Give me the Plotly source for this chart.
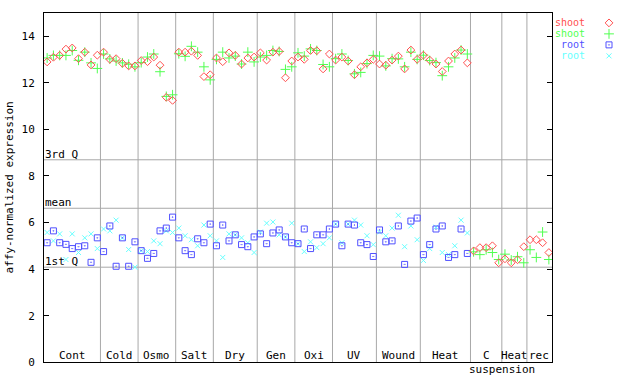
import plotly.graph_objects as go

# ---------------- data ----------------
groups = ["Cont", "Cold", "Osmo", "Salt", "Dry", "Gen", "Oxi", "UV", "Wound", "Heat", "C", "Heat", "rec"]
group_sizes = [9, 6, 6, 6, 7, 6, 6, 7, 7, 8, 5, 4, 4]

shoot_red = [12.89, 13.09, 13.17, 13.44, 13.49, 13.03, 13.31, 12.76, 13.18,
             13.31, 13.00, 13.03, 12.83, 12.72, 12.72,
             12.95, 12.90, 13.10, 12.75, 11.37, 11.24,
             13.31, 13.31, 13.35, 13.17, 12.26, 12.34,
             13.06, 12.90, 13.28, 13.17, 12.80, 13.06, 13.10,
             13.28, 12.97, 13.31, 13.34, 12.21, 12.93,
             13.10, 13.00, 13.38, 13.37, 12.59, 13.23,
             12.97, 13.10, 12.93, 12.34, 12.68, 12.85, 13.00,
             12.80, 12.75, 12.97, 13.14, 12.59, 13.40, 13.00,
             13.18, 12.97, 12.80, 12.48, 12.93, 13.23, 13.40, 12.85,
             4.78, 4.92, 4.92, 5.00, 4.27,
             4.44, 4.27, 4.40, 4.96,
             5.26, 5.26, 5.13, 4.71]
shoot_green = [13.06, 13.17, 13.17, 13.17, 13.38, 12.96, 13.31, 12.85, 12.61,
               13.23, 13.02, 12.93, 12.85, 12.79, 12.68,
               12.86, 13.10, 13.23, 12.47, 11.41, 11.48,
               13.24, 13.13, 13.56, 13.31, 12.68, 12.12,
               13.00, 13.31, 13.06, 13.14, 12.80, 13.31, 12.89,
               13.10, 13.17, 13.38, 13.34, 12.57, 12.68,
               13.28, 13.14, 13.45, 13.38, 12.78, 12.68,
               13.03, 13.23, 12.95, 12.38, 12.44, 12.82, 13.17,
               13.14, 12.72, 13.03, 13.02, 12.68, 13.31, 13.00,
               13.18, 12.95, 12.86, 12.30, 12.68, 13.06, 13.40, 13.23,
               4.74, 4.62, 4.83, 4.71, 4.41,
               4.64, 4.39, 4.53, 4.27,
               4.83, 4.50, 5.59, 4.41]
root_blue = [5.13, 5.64, 5.13, 5.06, 4.88, 4.96, 5.00, 4.29, 5.34,
             4.75, 5.85, 4.12, 5.34, 4.12, 5.17,
             4.79, 4.46, 4.67, 5.64, 5.76, 6.23,
             5.34, 4.79, 4.62, 5.30, 5.13, 5.93,
             5.00, 5.89, 5.21, 5.47, 5.05, 4.96, 5.38,
             5.51, 5.09, 5.55, 5.68, 5.38, 5.13,
             5.09, 5.72, 4.88, 5.47, 5.47, 5.72,
             5.93, 5.00, 5.93, 5.89, 5.13, 5.05, 4.54,
             5.68, 5.17, 5.21, 5.85, 4.20, 6.06, 6.19,
             4.62, 5.05, 5.72, 5.85, 4.50, 4.62, 5.72, 4.67]
root_cyan = [5.57, 5.21, 5.51, 4.41, 5.51, 4.71, 5.34, 5.51, 4.88,
             5.72, 5.64, 6.10, 5.34, 4.84, 4.08,
             4.79, 4.75, 5.21, 5.09, 5.64, 5.57,
             5.76, 5.43, 5.26, 5.00, 5.89, 5.43,
             5.21, 4.50, 5.51, 5.47, 5.34, 5.13, 4.71,
             5.59, 5.97, 6.02, 5.47, 5.38, 5.97,
             5.09, 4.75, 5.17, 4.92, 5.09, 5.34,
             5.93, 5.13, 5.93, 6.10, 5.89, 5.43, 5.05,
             5.59, 5.43, 5.76, 6.31, 4.96, 5.85, 5.26,
             4.37, 4.88, 5.80, 4.71, 4.62, 5.00, 6.10, 5.55]

quartile_names = ["3rd Q", "mean", "1st Q"]
quartile_values = [8.69, 6.61, 4.08]

series_names = ["shoot", "shoot", "root", "root"]
series_colors = ["#ff5050", "#50ff50", "#5050ff", "#66ffff"]

# ---------------- layout constants ----------------
W, H = 640, 384
PL, PR, PT, PB = 44, 552, 13, 369
FONT = "DejaVu Sans Mono"

n_total = sum(group_sizes)
x_shoot = [i + 0.5 for i in range(len(shoot_red))]
x_root = [i + 0.5 for i in range(len(root_blue))]

fig = go.Figure()

styles = [
    dict(symbol="diamond-open", size=6, lw=1),
    dict(symbol="cross-thin-open", size=7, lw=1),
    dict(symbol="square-open-dot", size=6, lw=1),
    dict(symbol="x-thin-open", size=5, lw=1),
]


def marker_of(k):
    st = styles[k]
    return dict(symbol=st["symbol"], size=st["size"], color=series_colors[k],
                line=dict(color=series_colors[k], width=st["lw"]))


series_x = [x_shoot, x_shoot, x_root, x_root]
series_y = [shoot_red, shoot_green, root_blue, root_cyan]
for k in [3, 2, 1, 0]:
    fig.add_trace(go.Scatter(x=series_x[k], y=series_y[k], mode="markers",
                             marker=marker_of(k), name=series_names[k], showlegend=False,
                             hoverinfo="skip"))

# legend keys on an auxiliary pixel-space axis
leg_x_marker = 609
leg_y0, leg_dy = 23.3, 11.2
for k in range(4):
    fig.add_trace(go.Scatter(x=[leg_x_marker], y=[leg_y0 + leg_dy * k], mode="markers",
                             marker=marker_of(k), xaxis="x2", yaxis="y2", showlegend=False,
                             hoverinfo="skip"))

shapes = []
annotations = []

# group separators
b = 0
bounds = []
for s in group_sizes[:-1]:
    b += s
    bounds.append(b)
for bx in bounds:
    shapes.append(dict(type="line", xref="x", yref="y domain", x0=bx, x1=bx, y0=0, y1=1,
                       line=dict(color="#a8a8a8", width=1), layer="below"))

# quartile lines
for name, v in zip(quartile_names, quartile_values):
    shapes.append(dict(type="line", xref="x domain", yref="y", x0=0, x1=1, y0=v, y1=v,
                       line=dict(color="#a8a8a8", width=1), layer="below"))
    annotations.append(dict(text=name, x=0, xref="x domain", y=v, yref="y",
                            xanchor="left", yanchor="bottom", showarrow=False,
                            xshift=-1, yshift=-3,
                            font=dict(family=FONT, size=11, color="black")))

# group labels
start = 0
for g, s in zip(groups, group_sizes):
    cx = start + s / 2
    annotations.append(dict(text=g, x=cx, xref="x", y=0, yref="y", xanchor="center",
                            yanchor="bottom", showarrow=False, yshift=-2,
                            font=dict(family=FONT, size=11, color="black")))
    if g == "C":
        annotations.append(dict(text="suspension", x=start + s, xref="x", y=0, yref="y",
                                xanchor="center", yanchor="top", showarrow=False, yshift=1,
                                font=dict(family=FONT, size=11, color="black")))
    start += s

# y title
annotations.append(dict(text="affy-normalized expression", x=10 / W, xref="paper",
                        y=1 - (PT + PB) / 2 / H, yref="paper", textangle=-90,
                        xanchor="center", yanchor="middle", showarrow=False,
                        font=dict(family=FONT, size=11, color="black")))

# legend texts
for k in range(4):
    annotations.append(dict(text=series_names[k], x=586 / W, xref="paper",
                            y=1 - (leg_y0 + leg_dy * k) / H, yref="paper",
                            xanchor="right", yanchor="middle", showarrow=False,
                            borderpad=0,
                            font=dict(family=FONT, size=10, color=series_colors[k])))

fig.update_layout(
    width=W, height=H,
    margin=dict(l=0, r=0, t=0, b=0),
    paper_bgcolor="white", plot_bgcolor="white",
    showlegend=False, hovermode=False,
    shapes=shapes, annotations=annotations,
    xaxis=dict(domain=[PL / W, PR / W], range=[0, n_total], showgrid=False, zeroline=False,
               showticklabels=False, ticks="", showline=True, mirror=True,
               linecolor="black", linewidth=1, fixedrange=True),
    yaxis=dict(domain=[1 - PB / H, 1 - PT / H], range=[0, 15], showgrid=False, zeroline=False,
               tickvals=[0, 2, 4, 6, 8, 10, 12, 14], ticks="inside", ticklen=5,
               tickcolor="black", showline=True, mirror="ticks", linecolor="black",
               linewidth=1, ticklabelstandoff=6, fixedrange=True,
               tickfont=dict(family=FONT, size=11, color="black")),
    xaxis2=dict(domain=[590 / W, 630 / W], range=[590, 630], visible=False, fixedrange=True),
    yaxis2=dict(domain=[0, 1], range=[H, 0], visible=False, anchor="x2", fixedrange=True),
)

fig.write_html("out.html", config={"displayModeBar": False, "staticPlot": True},
               post_script="document.body.style.margin='0';document.body.style.overflow='hidden';")
